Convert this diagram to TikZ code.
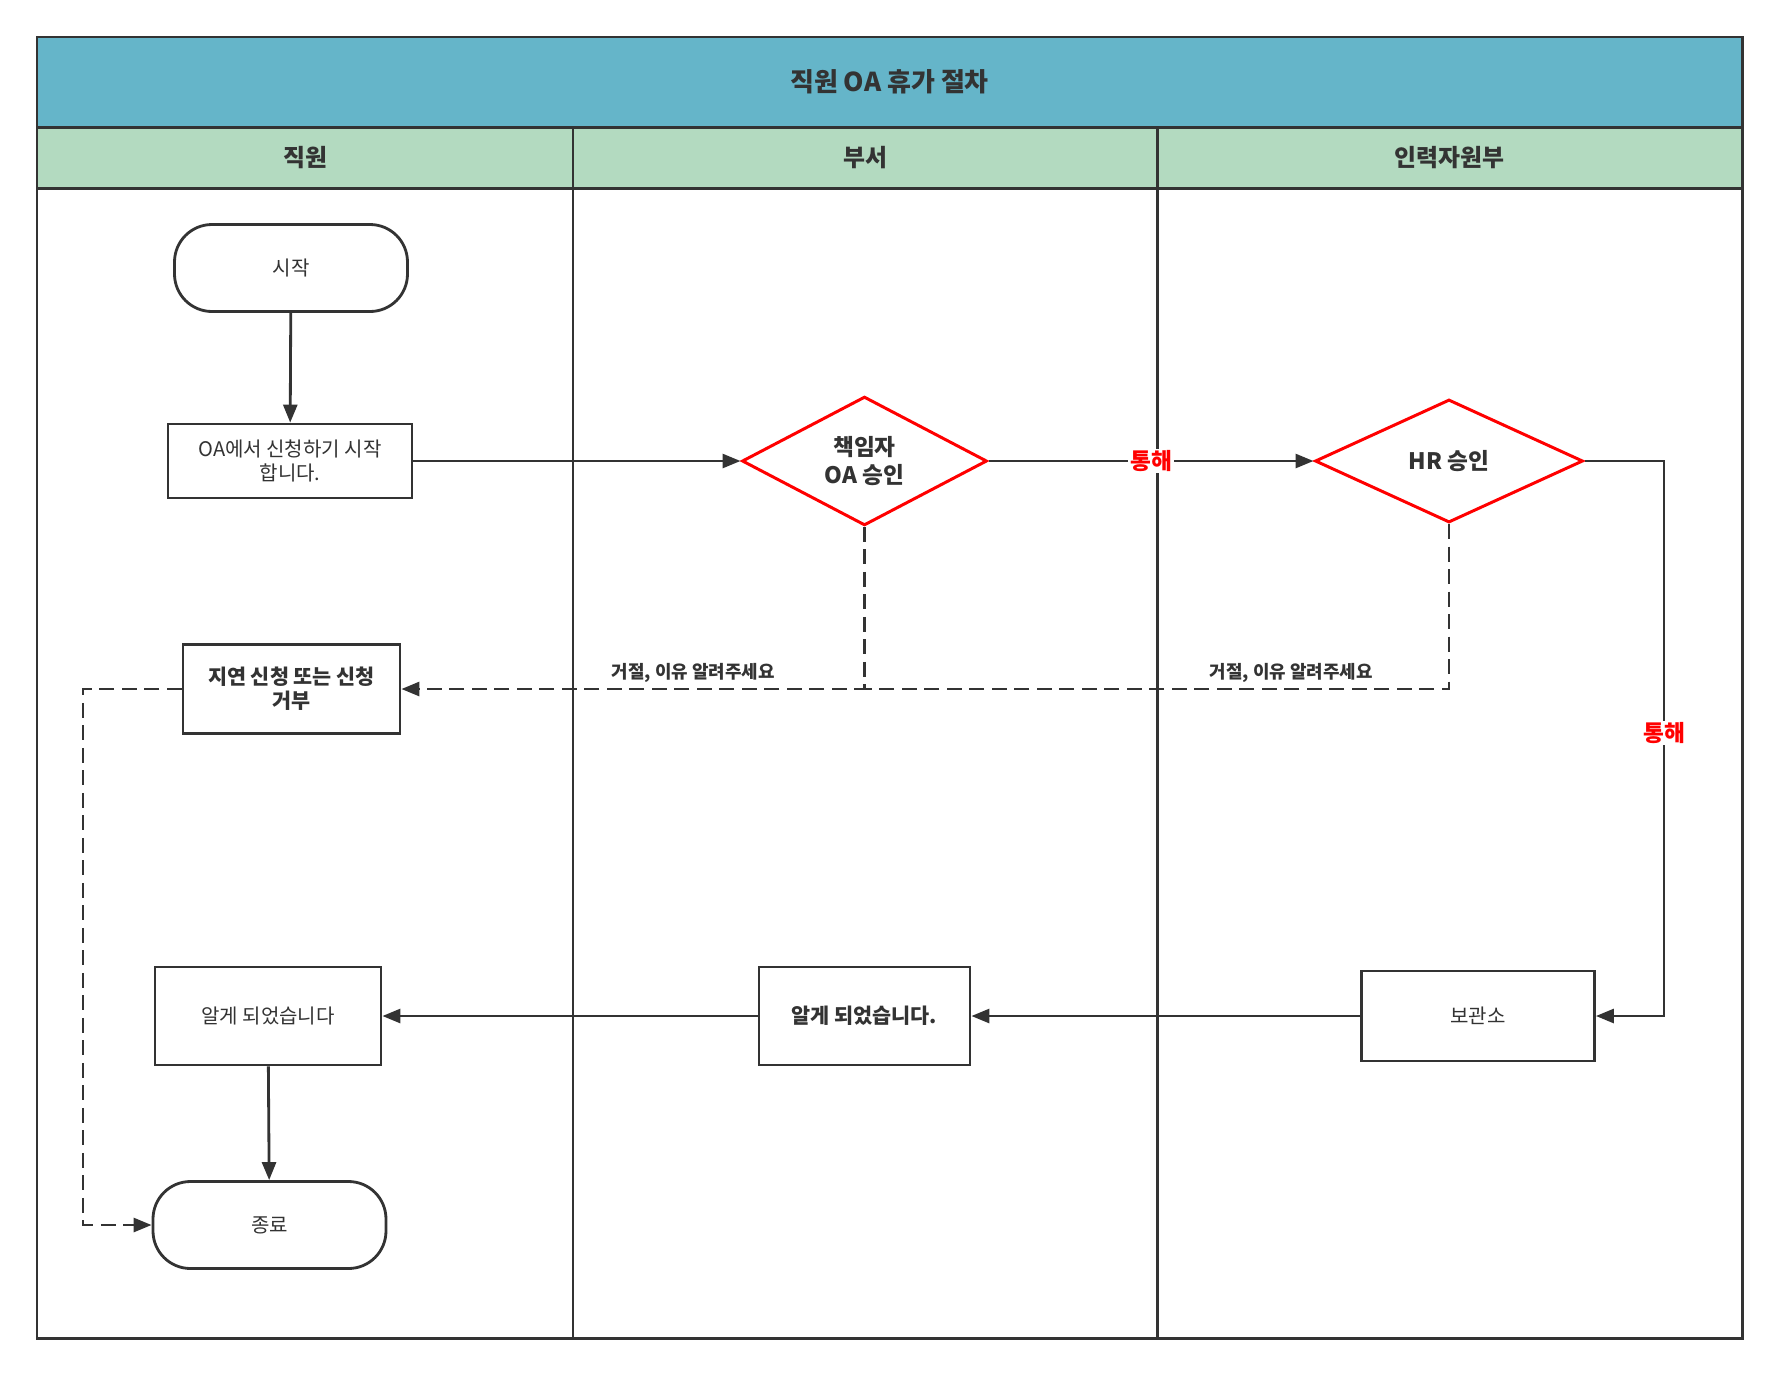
\documentclass[tikz,border=0pt]{standalone}
\usepackage{fontspec}
\setmainfont{Noto Sans CJK KR}
\usetikzlibrary{positioning, shapes.geometric, arrows.meta}
\definecolor{ink}{HTML}{333333}
\definecolor{band}{HTML}{65B5C9}
\definecolor{lane}{HTML}{B3DAC0}
\definecolor{hot}{HTML}{FF0000}

\begin{document}
\begin{tikzpicture}[
  font=\fontsize{11.4pt}{13.6pt}\selectfont, text=ink,
  box/.style={draw=ink, line width=1.6pt, fill=white, align=center, inner sep=2pt},
  bold/.style={font=\fontsize{11.8pt}{13.6pt}\selectfont\bfseries},
  term/.style={box, rounded corners=0.75cm},
  gate/.style={diamond, draw=hot, line width=1.7pt, fill=white, align=center, inner sep=0pt,
               font=\fontsize{12.9pt}{16pt}\selectfont\bfseries},
  arr/.style={-{Triangle[length=0.36cm,width=0.28cm]}, line width=1.6pt, draw=ink},
  rej/.style={arr, dash pattern=on 0.3cm off 0.15cm},
  pass/.style={text=hot, font=\fontsize{12.9pt}{15pt}\selectfont\bfseries, fill=white, inner sep=1pt},
  why/.style={font=\fontsize{10.2pt}{12pt}\selectfont\bfseries, above=0.07cm, inner sep=1pt},
  head/.style={draw=ink, line width=1.7pt, fill=lane, minimum height=1.22cm, anchor=north west,
               outer sep=0pt, font=\fontsize{13.6pt}{16pt}\selectfont\bfseries},
  lanebox/.style={draw=ink, line width=1.7pt}
]
  \useasboundingbox (0,0) rectangle (35.58,-27.5);

  % swimlanes
  \node[draw=ink, line width=1.7pt, fill=band, minimum width=34.1cm, minimum height=1.8cm, outer sep=0pt,
        anchor=north west, font=\fontsize{14.8pt}{17pt}\selectfont\bfseries] (title) at (0.74,-0.74) {직원 OA 휴가 절차};
  \node[head, minimum width=10.72cm] (emp) at (title.south west) {직원};
  \node[head, minimum width=11.68cm] (dept) at (emp.north east) {부서};
  \node[head, minimum width=11.70cm] (hrd) at (dept.north east) {인력자원부};
  \draw[lanebox] (emp.south west) rectangle (11.46,-26.76);
  \draw[lanebox] (dept.south west) rectangle (23.14,-26.76);
  \draw[lanebox] (hrd.south west) rectangle (34.84,-26.76);

  % steps
  \node[term, minimum width=4.66cm, minimum height=1.74cm] (start) at (5.82,-5.36) {시작};
  \node[box, minimum width=4.88cm, minimum height=1.48cm] (apply) at (5.8,-9.22) {OA에서 신청하기 시작\\합니다.};
  \node[gate, minimum width=4.9cm, minimum height=2.46cm] (mgr) at (17.29,-9.22) {책임자\\OA 승인};
  \node[gate, minimum width=5.36cm, minimum height=2.46cm] (hr) at (28.98,-9.22) {HR 승인};
  \node[box, bold, minimum width=4.34cm, minimum height=1.78cm] (reject) at (5.83,-13.78) {지연 신청 또는 신청\\거부};
  \node[box, minimum width=4.52cm, minimum height=1.96cm] (ack1) at (5.36,-20.32) {알게 되었습니다};
  \node[box, bold, minimum width=4.22cm, minimum height=1.96cm] (ack2) at (17.29,-20.32) {알게 되었습니다.};
  \node[box, minimum width=4.66cm, minimum height=1.8cm] (store) at (29.56,-20.32) {보관소};
  \node[term, minimum width=4.66cm, minimum height=1.74cm] (finish) at (5.39,-24.5) {종료};

  \coordinate (hrturn) at (33.28,-9.22);
  \coordinate (mgrdrop) at (mgr.south |- reject.east);
  \coordinate (hrdrop) at (hr.south |- reject.east);
  \coordinate (rejturn) at (1.66,-13.78);

  % flow
  \draw[arr] (start) -- (apply);
  \draw[arr] (apply) -- (mgr);
  \draw[arr] (mgr.east) -- node[pass, pos=0.5] {통해} (hr.west);
  \draw[arr] (hr.east) -- (hrturn) -- node[pass, pos=0.49] {통해} (hrturn |- store.east) -- (store.east);
  \draw[arr] (store) -- (ack2);
  \draw[arr] (ack2) -- (ack1);
  \draw[arr] (ack1) -- (finish);

  % rejections
  \draw[rej] (mgr.south) -- (mgrdrop) -- node[why, pos=0.37] {거절, 이유 알려주세요} (reject.east);
  \draw[rej, -] (hr.south) -- (hrdrop) -- node[why, pos=0.27] {거절, 이유 알려주세요} (mgrdrop);
  \draw[rej] (reject.west) -- (rejturn) |- (finish.west);
\end{tikzpicture}
\end{document}
